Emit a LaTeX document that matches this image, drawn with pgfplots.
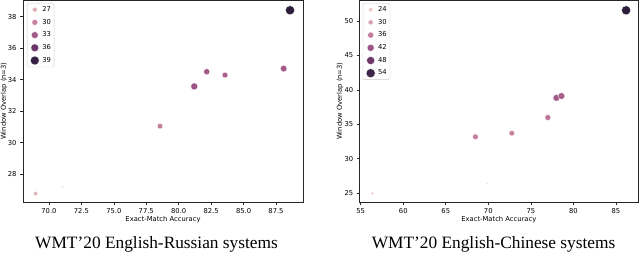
\documentclass[border=0pt]{standalone}
\usepackage{fontspec}
\setmainfont{Liberation Serif}
\newfontfamily\dejavu{DejaVu Sans}
\usepackage{pgfplots}
\pgfplotsset{compat=1.18}
\usepackage{pgfplotstable}

\definecolor{ra}{RGB}{223,174,183}
\definecolor{rb}{RGB}{200,131,161}
\definecolor{rc}{RGB}{162,89,136}
\definecolor{rd}{RGB}{108,55,104}
\definecolor{re}{RGB}{54,33,68}
\definecolor{ca}{RGB}{232,197,196}
\definecolor{cb}{RGB}{216,159,175}
\definecolor{cc}{RGB}{194,122,156}
\definecolor{cd}{RGB}{158,85,134}
\definecolor{ce}{RGB}{109,55,104}
\definecolor{cf}{RGB}{61,36,73}

\pgfplotsset{colormap={chx}{rgb255(0cm)=(237,209,203) rgb255(1cm)=(220,167,179) rgb255(2cm)=(196,124,157) rgb255(3cm)=(155,82,132) rgb255(4cm)=(99,49,98) rgb255(5cm)=(45,30,62)}}

\pgfplotstableread{
x y v r
68.97 26.77 26.5 2.2
71.05 27.21 24.5 1.3
78.56 31.05 30.5 2.8
81.20 33.57 33.5 3.5
82.16 34.50 33.0 3.1
83.57 34.29 32.5 2.9
88.09 34.70 33.0 3.3
88.58 38.40 39.5 4.6
}\rudata

\pgfplotstableread{
x y v r
56.37 24.95 24.0 1.6
69.90 26.39 22.0 1.1
68.49 33.17 35.0 2.9
72.76 33.70 34.5 2.8
77.00 35.97 36.5 3.0
78.00 38.83 41.0 3.4
78.60 39.10 40.5 3.4
86.20 51.55 56.0 4.6
}\zhdata

\newcommand\tickfont{\dejavu\fontsize{6.8}{8}\selectfont}
\newcommand\capfont{\fontsize{17.4}{20}\selectfont}

\pgfplotsset{
  mystyle/.style={
    scale only axis,
    clip=false,
    axis line style={black!85, line width=0.7bp},
    tick style={black!85, line width=0.6bp},
    tick align=outside,
    major tick length=3bp,
    xtick pos=lower, ytick pos=left,
    ticklabel style={font=\tickfont},
    /pgf/number format/assume math mode=true,
    xlabel={Exact-Match Accuracy},
    ylabel={Window Overlap (n=3)},
    every axis x label/.style={at={(axis description cs:0.5,-0.089)}, anchor=center, font=\tickfont},
    colormap name=chx,
    legend style={font=\tickfont, draw=black!20, rounded corners=1.5bp,
      anchor=north west, inner sep=1.2bp, row sep=2.2bp},
    legend cell align=left,
    legend image code/.code={\path[draw=none, fill=none] (0bp,-1bp) rectangle (12bp,1bp); \draw[#1] plot coordinates {(6.5bp,0bp)};},
  },
  myscatter/.style={scatter, only marks, mark=*, forget plot,
    point meta=\thisrow{v},
    scatter/use mapped color={draw=white, fill=mapped color},
    mark options={line width=0.3bp},
    visualization depends on={\thisrow{r}\as\rad},
    scatter/@pre marker code/.append style={/tikz/mark size=\rad}},
  lm/.style={only marks, mark=*, mark size=#1, mark options={draw=white, line width=0.2bp}},
}

\begin{document}
\begin{tikzpicture}
\useasboundingbox (0bp,0bp) rectangle (640bp,257bp);
\begin{axis}[mystyle,
  at={(23bp,55bp)}, anchor=south west, width=280bp, height=202bp,
  xmin=68.0, xmax=89.58, ymin=26.24, ymax=39.05,
  xtick={70,72.5,...,87.5}, ytick={28,30,...,38},
  xticklabel style={/pgf/number format/.cd, fixed, fixed zerofill, precision=1},
  every axis y label/.style={at={(axis description cs:-0.068,0.5)}, rotate=90, anchor=center, font=\tickfont},
  point meta min=24.5, point meta max=39.5,
  legend style={at={(axis description cs:0.014,0.985)}},
]
\addplot[myscatter] table {\rudata};
\addlegendimage{lm=2.4, fill=ra}\addlegendentry{27}
\addlegendimage{lm=2.9, fill=rb}\addlegendentry{30}
\addlegendimage{lm=3.4, fill=rc}\addlegendentry{33}
\addlegendimage{lm=3.9, fill=rd}\addlegendentry{36}
\addlegendimage{lm=4.4, fill=re}\addlegendentry{39}
\node[font=\capfont] at (axis description cs:0.477,-0.21) {WMT’20 English-Russian systems};
\end{axis}

\begin{axis}[mystyle,
  at={(359.7bp,55bp)}, anchor=south west, width=278.3bp, height=202bp,
  xmin=54.88, xmax=87.6, ymin=23.7, ymax=53.05,
  xtick={55,60,...,85}, ytick={25,30,...,50},
  every axis y label/.style={at={(axis description cs:-0.071,0.5)}, rotate=90, anchor=center, font=\tickfont},
  point meta min=22, point meta max=56,
  legend style={at={(axis description cs:0.011,0.985)}},
]
\addplot[myscatter] table {\zhdata};
\addlegendimage{lm=2.0, fill=ca}\addlegendentry{24}
\addlegendimage{lm=2.5, fill=cb}\addlegendentry{30}
\addlegendimage{lm=3.0, fill=cc}\addlegendentry{36}
\addlegendimage{lm=3.5, fill=cd}\addlegendentry{42}
\addlegendimage{lm=4.0, fill=ce}\addlegendentry{48}
\addlegendimage{lm=4.5, fill=cf}\addlegendentry{54}
\node[font=\capfont] at (axis description cs:0.481,-0.21) {WMT’20 English-Chinese systems};
\end{axis}
\end{tikzpicture}
\end{document}
